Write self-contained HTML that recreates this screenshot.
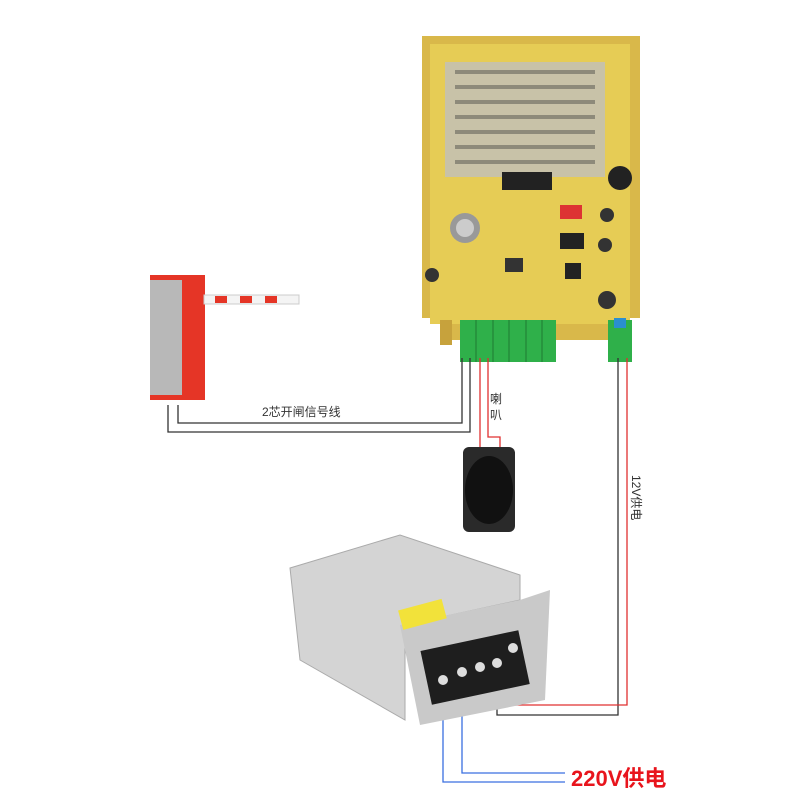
<!DOCTYPE html>
<html><head><meta charset="utf-8"><style>
body{margin:0;background:#fff}
svg{display:block}
text{font-family:"Liberation Sans","Noto Sans CJK SC",sans-serif}
</style></head><body>
<svg width="800" height="800" viewBox="0 0 800 800">
<!-- board -->
<path d="M422 36 L640 36 L640 318 L620 318 L620 340 L440 340 L440 318 L422 318 Z" fill="#d9b84a"/>
<rect x="430" y="44" width="200" height="280" fill="#e6cc55"/>
<rect x="445" y="62" width="160" height="115" fill="#c8c2a8"/>
<g fill="#8d8a7a">
<rect x="455" y="70" width="140" height="4"/><rect x="455" y="85" width="140" height="4"/><rect x="455" y="100" width="140" height="4"/><rect x="455" y="115" width="140" height="4"/><rect x="455" y="130" width="140" height="4"/><rect x="455" y="145" width="140" height="4"/><rect x="455" y="160" width="140" height="4"/>
</g>
<rect x="502" y="172" width="50" height="18" fill="#222"/>
<rect x="560" y="233" width="24" height="16" fill="#222"/>
<rect x="565" y="263" width="16" height="16" fill="#222"/>
<rect x="560" y="205" width="22" height="14" fill="#d33"/>
<circle cx="465" cy="228" r="15" fill="#999"/><circle cx="465" cy="228" r="9" fill="#ccc"/>
<circle cx="620" cy="178" r="12" fill="#222"/>
<g fill="#333"><circle cx="607" cy="215" r="7"/><circle cx="605" cy="245" r="7"/><circle cx="607" cy="300" r="9"/><circle cx="432" cy="275" r="7"/></g>
<rect x="505" y="258" width="18" height="14" fill="#333"/>
<rect x="440" y="320" width="12" height="25" fill="#c7a23c"/>
<!-- terminals -->
<rect x="460" y="320" width="96" height="42" fill="#2fb04a"/>
<g stroke="#1f7a33" stroke-width="1"><line x1="476" y1="320" x2="476" y2="362"/><line x1="493" y1="320" x2="493" y2="362"/><line x1="509" y1="320" x2="509" y2="362"/><line x1="526" y1="320" x2="526" y2="362"/><line x1="542" y1="320" x2="542" y2="362"/></g>
<rect x="608" y="320" width="24" height="42" fill="#2fb04a"/>
<rect x="614" y="318" width="12" height="10" fill="#2a8fd0"/>
<!-- barrier -->
<rect x="150" y="275" width="55" height="125" fill="#e53526"/>
<rect x="150" y="280" width="32" height="115" fill="#b8b8b8"/>
<rect x="204" y="295" width="95" height="9" fill="#f4f4f4" stroke="#ccc"/>
<g fill="#e53526"><rect x="215" y="296" width="12" height="7"/><rect x="240" y="296" width="12" height="7"/><rect x="265" y="296" width="12" height="7"/></g>
<!-- wires -->
<g fill="none" stroke-width="1.3">
<polyline stroke="#333" points="168,405 168,432 470,432 470,358"/>
<polyline stroke="#333" points="178,405 178,423 462,423 462,358"/>
<polyline stroke="#e03030" points="480,358 480,455"/>
<polyline stroke="#e03030" points="488,358 488,437 500,437 500,455"/>
<polyline stroke="#333" points="618,358 618,715 497,715 497,670"/>
<polyline stroke="#e03030" points="627,358 627,705 513,705 513,650"/>
<polyline stroke="#3a6fe0" points="443,680 443,782 565,782"/>
<polyline stroke="#3a6fe0" points="462,672 462,773 565,773"/>
</g>
<text x="262" y="416" font-size="12" fill="#333">2芯开闸信号线</text>
<text x="490" y="403" font-size="12" fill="#333">喇</text>
<text x="490" y="419" font-size="12" fill="#333">叭</text>
<text transform="translate(632,475) rotate(90)" font-size="12" fill="#333">12V供电</text>
<!-- speaker -->
<rect x="463" y="447" width="52" height="85" rx="6" fill="#2a2a2a"/>
<ellipse cx="489" cy="490" rx="24" ry="34" fill="#111"/>
<!-- PSU -->
<path d="M290 568 L400 535 L520 575 L520 600 L405 625 L405 720 L300 660 Z" fill="#d4d4d4" stroke="#aaa"/>
<path d="M400 625 L520 600 L550 590 L545 700 L420 725 Z" fill="#c9c9c9"/>
<rect x="400" y="605" width="45" height="20" fill="#f2e23a" transform="rotate(-15 420 615)"/>
<rect x="425" y="640" width="100" height="55" fill="#1e1e1e" transform="rotate(-12 475 667)"/>
<g fill="#ddd"><circle cx="443" cy="680" r="5"/><circle cx="462" cy="672" r="5"/><circle cx="480" cy="667" r="5"/><circle cx="497" cy="663" r="5"/><circle cx="513" cy="648" r="5"/></g>
<text x="571" y="786" font-size="22" font-weight="bold" fill="#e8141c">220V供电</text>
</svg>
</body></html>
